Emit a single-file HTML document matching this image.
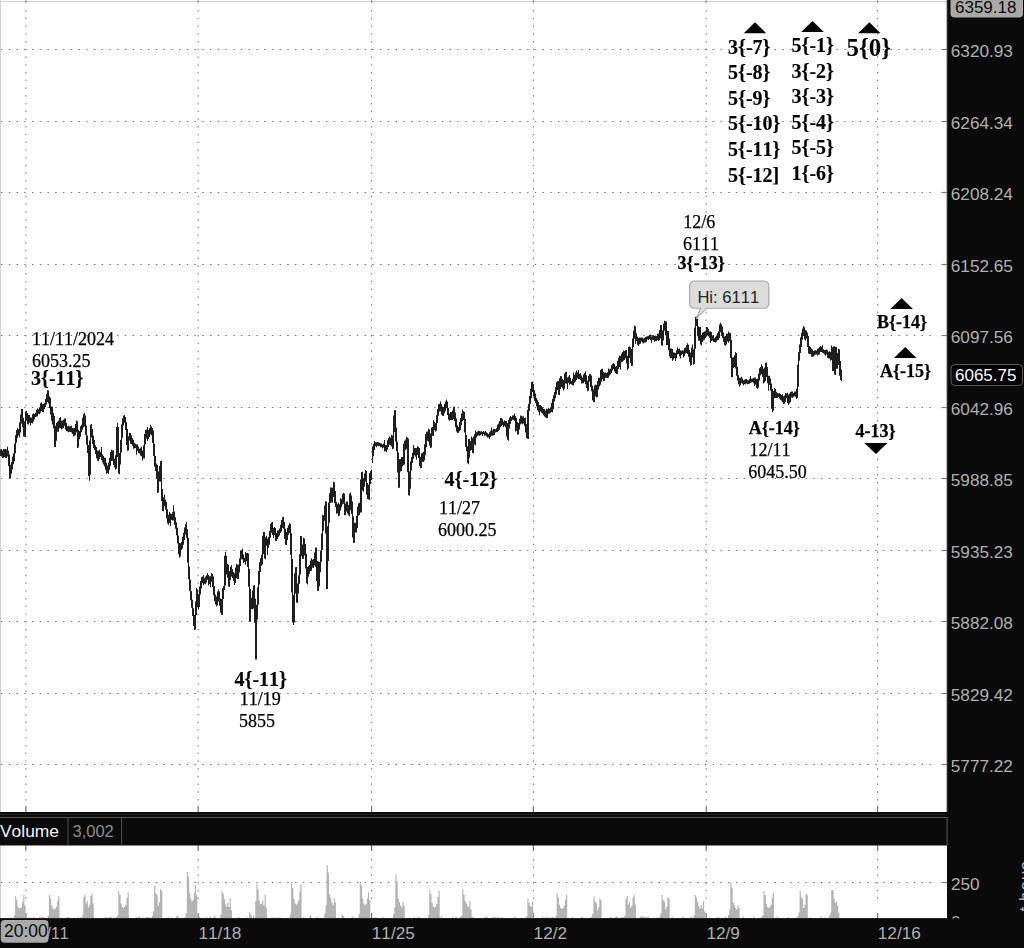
<!DOCTYPE html>
<html><head><meta charset="utf-8"><title>chart</title>
<style>html,body{margin:0;padding:0;background:#fff;}body{width:1024px;height:948px;overflow:hidden;position:relative;font-family:"Liberation Sans",sans-serif;}svg{position:absolute;left:0;top:0;display:block}text{font-kerning:none;font-variant-ligatures:none}.ax{font-family:"Liberation Sans",sans-serif;font-size:17.2px;fill:#b0b0b0}.sr{font-family:"Liberation Serif",serif;font-size:18px;fill:#000;stroke:#000;stroke-width:0.25px}.sb{font-family:"Liberation Serif",serif;font-weight:bold;font-size:20px;fill:#000;stroke:#000;stroke-width:0.15px}.sm{font-family:"Liberation Serif",serif;font-weight:bold;font-size:18px;fill:#000;stroke:#000;stroke-width:0.25px}.sx{font-family:"Liberation Serif",serif;font-weight:bold;font-size:25px;fill:#000}</style></head><body>
<svg width="1024" height="948" viewBox="0 0 1024 948">
<rect x="0" y="0" width="1024" height="948" fill="#fff"/>
<g stroke="#6e6e6e" stroke-width="1" fill="none" stroke-dasharray="1.4 6.335">
<path d="M1.1 49.5 H934"/>
<path d="M1.1 121.5 H934"/>
<path d="M1.1 192.5 H934"/>
<path d="M1.1 264.5 H934"/>
<path d="M1.1 335.5 H934"/>
<path d="M1.1 407.5 H934"/>
<path d="M1.1 478.5 H934"/>
<path d="M1.1 550.5 H934"/>
<path d="M1.1 621.5 H934"/>
<path d="M1.1 693.5 H934"/>
<path d="M1.1 764.5 H934"/>
<path d="M25.9 10.1 V806"/>
<path d="M198.2 10.1 V806"/>
<path d="M371.6 10.1 V806"/>
<path d="M533.4 10.1 V806"/>
<path d="M706.2 10.1 V806"/>
<path d="M877.6 10.1 V806"/>
</g>
<g stroke="#6e6e6e" stroke-width="1" fill="none" stroke-dasharray="1.4 6.335">
<path d="M1.1 882.5 H934"/>
<path d="M25.9 858.9 V904"/>
<path d="M198.2 858.9 V904"/>
<path d="M371.6 858.9 V904"/>
<path d="M533.4 858.9 V904"/>
<path d="M706.2 858.9 V904"/>
<path d="M877.6 858.9 V904"/>
</g>
<rect x="0" y="1" width="947" height="1" fill="#cfcfcf"/>
<rect x="0" y="0" width="1" height="918" fill="#d2d2d2"/>
<g stroke="#707070" stroke-width="1.2">
<path d="M25.9 806 V812"/>
<path d="M25.9 845 V851"/>
<path d="M25.9 913 V918"/>
<path d="M25.9 0.4 V2.8"/>
<path d="M198.2 806 V812"/>
<path d="M198.2 845 V851"/>
<path d="M198.2 913 V918"/>
<path d="M198.2 0.4 V2.8"/>
<path d="M371.6 806 V812"/>
<path d="M371.6 845 V851"/>
<path d="M371.6 913 V918"/>
<path d="M371.6 0.4 V2.8"/>
<path d="M533.4 806 V812"/>
<path d="M533.4 845 V851"/>
<path d="M533.4 913 V918"/>
<path d="M533.4 0.4 V2.8"/>
<path d="M706.2 806 V812"/>
<path d="M706.2 845 V851"/>
<path d="M706.2 913 V918"/>
<path d="M706.2 0.4 V2.8"/>
<path d="M877.6 806 V812"/>
<path d="M877.6 845 V851"/>
<path d="M877.6 913 V918"/>
<path d="M877.6 0.4 V2.8"/>
</g>
<g id="vol" fill="#b3b3b3">
<path d="M13.9 918.5 L13.9 915 L15.1 915 L15.1 896.2 L16.2 896.2 L16.2 899.7 L17.4 899.7 L17.4 906.8 L18.6 906.8 L18.6 908.6 L19.8 908.6 L19.8 907.9 L20.9 907.9 L20.9 907.2 L22.1 907.2 L22.1 902 L23.3 902 L23.3 895 L24.4 895 L24.4 905.6 L25.6 905.6 L25.6 918.5Z"/>
<path d="M47.7 918.5 L47.7 915.7 L48.9 915.7 L48.9 895 L50 895 L50 898.5 L51.2 898.5 L51.2 905.6 L52.4 905.6 L52.4 908.6 L53.6 908.6 L53.6 909.6 L54.7 909.6 L54.7 908.6 L55.9 908.6 L55.9 906.8 L57.1 906.8 L57.1 900.9 L58.2 900.9 L58.2 896.2 L59.4 896.2 L59.4 918.5Z"/>
<path d="M82.1 918.5 L82.1 915.5 L83.3 915.5 L83.3 897.2 L84.4 897.2 L84.4 894.7 L85.6 894.7 L85.6 903.4 L86.8 903.4 L86.8 900.9 L87.9 900.9 L87.9 907.2 L89.1 907.2 L89.1 904.7 L90.3 904.7 L90.3 895.9 L91.5 895.9 L91.5 893.4 L92.6 893.4 L92.6 903.4 L93.8 903.4 L93.8 918.5Z"/>
<path d="M117.1 918.5 L117.1 915.2 L118.3 915.2 L118.3 891 L119.4 891 L119.4 895.1 L120.6 895.1 L120.6 903.4 L121.8 903.4 L121.8 907 L123 907 L123 908 L124.1 908 L124.1 907 L125.3 907 L125.3 904.8 L126.5 904.8 L126.5 897.9 L127.6 897.9 L127.6 892.4 L128.8 892.4 L128.8 918.5Z"/>
<path d="M150.6 918.5 L150.6 918.5 L151.8 918.5 L151.8 915.9 L152.9 915.9 L152.9 911.4 L154.1 911.4 L154.1 886 L155.3 886 L155.3 893.1 L156.5 893.1 L156.5 895.1 L157.6 895.1 L157.6 906.1 L158.8 906.1 L158.8 902.2 L160 902.2 L160 888.9 L161.1 888.9 L161.1 890.9 L162.3 890.9 L162.3 918.5Z"/>
<path d="M185.6 918.5 L185.6 912.9 L186.8 912.9 L186.8 872 L187.9 872 L187.9 876.6 L189.1 876.6 L189.1 892.9 L190.3 892.9 L190.3 899 L191.5 899 L191.5 901.8 L192.6 901.8 L192.6 899.9 L193.8 899.9 L193.8 892.9 L195 892.9 L195 885 L196.1 885 L196.1 895.2 L197.3 895.2 L197.3 918.5Z"/>
<path d="M220.3 918.5 L220.3 914.4 L221.5 914.4 L221.5 891 L222.6 891 L222.6 893.8 L223.8 893.8 L223.8 899.2 L225 899.2 L225 904.2 L226.2 904.2 L226.2 907 L227.3 907 L227.3 902.5 L228.5 902.5 L228.5 907 L229.7 907 L229.7 897.9 L230.8 897.9 L230.8 910.2 L232 910.2 L232 918.5Z"/>
<path d="M255.2 918.5 L255.2 901.2 L256.4 901.2 L256.4 884 L257.5 884 L257.5 889.2 L258.7 889.2 L258.7 900.6 L259.9 900.6 L259.9 904 L261.1 904 L261.1 904 L262.2 904 L262.2 900.6 L263.4 900.6 L263.4 905.4 L264.6 905.4 L264.6 894.4 L265.7 894.4 L265.7 908.1 L266.9 908.1 L266.9 918.5Z"/>
<path d="M289.9 918.5 L289.9 914.2 L291.1 914.2 L291.1 882.5 L292.2 882.5 L292.2 887.9 L293.4 887.9 L293.4 898.7 L294.6 898.7 L294.6 903.4 L295.8 903.4 L295.8 904.8 L296.9 904.8 L296.9 903.4 L298.1 903.4 L298.1 900.5 L299.3 900.5 L299.3 891.5 L300.4 891.5 L300.4 884.3 L301.6 884.3 L301.6 918.5Z"/>
<path d="M324.3 918.5 L324.3 913.2 L325.5 913.2 L325.5 905.2 L326.6 905.2 L326.6 865.3 L327.8 865.3 L327.8 873.3 L329 873.3 L329 894.6 L330.2 894.6 L330.2 898.3 L331.3 898.3 L331.3 902.5 L332.5 902.5 L332.5 905.2 L333.7 905.2 L333.7 898.3 L334.8 898.3 L334.8 902.5 L336 902.5 L336 918.5Z"/>
<path d="M358.6 918.5 L358.6 914.1 L359.8 914.1 L359.8 882 L360.9 882 L360.9 885.6 L362.1 885.6 L362.1 898.4 L363.3 898.4 L363.3 903.2 L364.5 903.2 L364.5 905.4 L365.6 905.4 L365.6 903.9 L366.8 903.9 L366.8 898.4 L368 898.4 L368 892.2 L369.1 892.2 L369.1 900.2 L370.3 900.2 L370.3 918.5Z"/>
<path d="M393 918.5 L393 914.1 L394.2 914.1 L394.2 907.5 L395.3 907.5 L395.3 874.7 L396.5 874.7 L396.5 881.3 L397.7 881.3 L397.7 898.8 L398.9 898.8 L398.9 901.9 L400 901.9 L400 905.4 L401.2 905.4 L401.2 907.5 L402.4 907.5 L402.4 901.9 L403.5 901.9 L403.5 905.4 L404.7 905.4 L404.7 918.5Z"/>
<path d="M428 918.5 L428 915 L429.2 915 L429.2 889.7 L430.3 889.7 L430.3 894 L431.5 894 L431.5 902.7 L432.7 902.7 L432.7 906.4 L433.9 906.4 L433.9 907.6 L435 907.6 L435 906.4 L436.2 906.4 L436.2 904.1 L437.4 904.1 L437.4 896.9 L438.5 896.9 L438.5 891.1 L439.7 891.1 L439.7 918.5Z"/>
<path d="M461.1 918.5 L461.1 915.5 L462.3 915.5 L462.3 888.8 L463.4 888.8 L463.4 894.7 L464.6 894.7 L464.6 900.7 L465.8 900.7 L465.8 903.6 L467 903.6 L467 906 L468.1 906 L468.1 907.2 L469.3 907.2 L469.3 900.7 L470.5 900.7 L470.5 909.6 L471.6 909.6 L471.6 917 L472.8 917 L472.8 918.5Z"/>
<path d="M521.5 918.5 L521.5 918.5 L522.7 918.5 L522.7 918.5 L523.8 918.5 L523.8 918.5 L525 918.5 L525 917.5 L526.2 917.5 L526.2 916.5 L527.4 916.5 L527.4 898.8 L528.5 898.8 L528.5 902.7 L529.7 902.7 L529.7 905.7 L530.9 905.7 L530.9 906.7 L532 906.7 L532 901.8 L533.2 901.8 L533.2 918.5Z"/>
<path d="M555.5 918.5 L555.5 915.5 L556.7 915.5 L556.7 893.4 L557.8 893.4 L557.8 897.2 L559 897.2 L559 904.7 L560.2 904.7 L560.2 908 L561.4 908 L561.4 909 L562.5 909 L562.5 908 L563.7 908 L563.7 906 L564.9 906 L564.9 899.7 L566 899.7 L566 894.7 L567.2 894.7 L567.2 918.5Z"/>
<path d="M589.9 918.5 L589.9 918.5 L591.1 918.5 L591.1 916.7 L592.2 916.7 L592.2 913.7 L593.4 913.7 L593.4 896.6 L594.6 896.6 L594.6 901.4 L595.8 901.4 L595.8 902.7 L596.9 902.7 L596.9 910.2 L598.1 910.2 L598.1 907.5 L599.3 907.5 L599.3 898.6 L600.4 898.6 L600.4 899.9 L601.6 899.9 L601.6 918.5Z"/>
<path d="M624.3 918.5 L624.3 915.7 L625.5 915.7 L625.5 898.5 L626.6 898.5 L626.6 896.2 L627.8 896.2 L627.8 904.4 L629 904.4 L629 902 L630.1 902 L630.1 907.9 L631.3 907.9 L631.3 905.6 L632.5 905.6 L632.5 897.4 L633.7 897.4 L633.7 895 L634.8 895 L634.8 904.4 L636 904.4 L636 918.5Z"/>
<path d="M658 918.5 L658 918.5 L659.2 918.5 L659.2 916.6 L660.3 916.6 L660.3 913.3 L661.5 913.3 L661.5 895 L662.7 895 L662.7 900.2 L663.9 900.2 L663.9 901.6 L665 901.6 L665 909.6 L666.2 909.6 L666.2 906.8 L667.4 906.8 L667.4 897.1 L668.5 897.1 L668.5 898.5 L669.7 898.5 L669.7 918.5Z"/>
<path d="M693.6 918.5 L693.6 915 L694.8 915 L694.8 895 L695.9 895 L695.9 897.4 L697.1 897.4 L697.1 902 L698.3 902 L698.3 906.3 L699.4 906.3 L699.4 908.6 L700.6 908.6 L700.6 904.9 L701.8 904.9 L701.8 908.6 L703 908.6 L703 900.9 L704.1 900.9 L704.1 911.5 L705.3 911.5 L705.3 918.5Z"/>
<path d="M728 918.5 L728 915 L729.2 915 L729.2 909.6 L730.3 909.6 L730.3 883 L731.5 883 L731.5 888.3 L732.7 888.3 L732.7 902.5 L733.9 902.5 L733.9 905 L735 905 L735 907.9 L736.2 907.9 L736.2 909.6 L737.4 909.6 L737.4 905 L738.5 905 L738.5 907.9 L739.7 907.9 L739.7 918.5Z"/>
<path d="M762.3 918.5 L762.3 915.2 L763.5 915.2 L763.5 891 L764.6 891 L764.6 895.1 L765.8 895.1 L765.8 903.4 L767 903.4 L767 907 L768.1 907 L768.1 908 L769.3 908 L769.3 907 L770.5 907 L770.5 904.8 L771.7 904.8 L771.7 897.9 L772.8 897.9 L772.8 892.4 L774 892.4 L774 918.5Z"/>
<path d="M796.1 918.5 L796.1 918.5 L797.3 918.5 L797.3 916.3 L798.4 916.3 L798.4 912.5 L799.6 912.5 L799.6 891 L800.8 891 L800.8 897 L801.9 897 L801.9 898.7 L803.1 898.7 L803.1 908 L804.3 908 L804.3 904.8 L805.5 904.8 L805.5 893.5 L806.6 893.5 L806.6 895.1 L807.8 895.1 L807.8 918.5Z"/>
<path d="M828.9 918.5 L828.9 915.6 L830.1 915.6 L830.1 912.8 L831.2 912.8 L831.2 890 L832.4 890 L832.4 890 L833.6 890 L833.6 898.5 L834.8 898.5 L834.8 902.8 L835.9 902.8 L835.9 901.4 L837.1 901.4 L837.1 905.7 L838.3 905.7 L838.3 912.8 L839.4 912.8 L839.4 918.5 L840.6 918.5 L840.6 918.5Z"/>
<path d="M2 918.5 v-0.6 h1.2 v0.6ZM4.4 918.5 v-0.8 h1.2 v0.8ZM5.6 918.5 v-0.5 h1.2 v0.5ZM10.4 918.5 v-1 h1.2 v1ZM12.8 918.5 v-0.6 h1.2 v0.6ZM14 918.5 v-1.5 h1.2 v1.5ZM16.4 918.5 v-2 h1.2 v2ZM17.6 918.5 v-1 h1.2 v1ZM22.4 918.5 v-0.8 h1.2 v0.8ZM23.6 918.5 v-0.8 h1.2 v0.8ZM28.4 918.5 v-1 h1.2 v1ZM29.6 918.5 v-0.8 h1.2 v0.8ZM33.2 918.5 v-1.5 h1.2 v1.5ZM36.8 918.5 v-0.5 h1.2 v0.5ZM38 918.5 v-0.5 h1.2 v0.5ZM39.2 918.5 v-1.5 h1.2 v1.5ZM41.6 918.5 v-1.5 h1.2 v1.5ZM42.8 918.5 v-1.5 h1.2 v1.5ZM44 918.5 v-0.8 h1.2 v0.8ZM48.8 918.5 v-1 h1.2 v1ZM53.6 918.5 v-0.8 h1.2 v0.8ZM56 918.5 v-1 h1.2 v1ZM58.4 918.5 v-1.5 h1.2 v1.5ZM60.8 918.5 v-1 h1.2 v1ZM63.2 918.5 v-0.5 h1.2 v0.5ZM66.8 918.5 v-1.5 h1.2 v1.5ZM68 918.5 v-1.5 h1.2 v1.5ZM69.2 918.5 v-0.5 h1.2 v0.5ZM71.6 918.5 v-0.6 h1.2 v0.6ZM74 918.5 v-1 h1.2 v1ZM77.6 918.5 v-1.5 h1.2 v1.5ZM80 918.5 v-1.5 h1.2 v1.5ZM82.4 918.5 v-1 h1.2 v1ZM83.6 918.5 v-0.5 h1.2 v0.5ZM84.8 918.5 v-1 h1.2 v1ZM86 918.5 v-0.8 h1.2 v0.8ZM88.4 918.5 v-0.6 h1.2 v0.6ZM89.6 918.5 v-1 h1.2 v1ZM90.8 918.5 v-1.5 h1.2 v1.5ZM92 918.5 v-2 h1.2 v2ZM93.2 918.5 v-1 h1.2 v1ZM94.4 918.5 v-0.6 h1.2 v0.6ZM105.2 918.5 v-1.5 h1.2 v1.5ZM107.6 918.5 v-1 h1.2 v1ZM108.8 918.5 v-1 h1.2 v1ZM110 918.5 v-2 h1.2 v2ZM111.2 918.5 v-0.6 h1.2 v0.6ZM113.6 918.5 v-1 h1.2 v1ZM116 918.5 v-1.5 h1.2 v1.5ZM119.6 918.5 v-1 h1.2 v1ZM120.8 918.5 v-0.8 h1.2 v0.8ZM124.4 918.5 v-0.6 h1.2 v0.6ZM126.8 918.5 v-2 h1.2 v2ZM128 918.5 v-1 h1.2 v1ZM129.2 918.5 v-0.8 h1.2 v0.8ZM131.6 918.5 v-0.5 h1.2 v0.5ZM135.2 918.5 v-1 h1.2 v1ZM136.4 918.5 v-1.5 h1.2 v1.5ZM138.8 918.5 v-2 h1.2 v2ZM141.2 918.5 v-0.6 h1.2 v0.6ZM142.4 918.5 v-0.6 h1.2 v0.6ZM144.8 918.5 v-0.6 h1.2 v0.6ZM146 918.5 v-1.5 h1.2 v1.5ZM147.2 918.5 v-1 h1.2 v1ZM148.4 918.5 v-1.5 h1.2 v1.5ZM150.8 918.5 v-1 h1.2 v1ZM156.8 918.5 v-1 h1.2 v1ZM159.2 918.5 v-0.5 h1.2 v0.5ZM166.4 918.5 v-0.5 h1.2 v0.5ZM167.6 918.5 v-1.5 h1.2 v1.5ZM168.8 918.5 v-0.5 h1.2 v0.5ZM171.2 918.5 v-1 h1.2 v1ZM174.8 918.5 v-0.8 h1.2 v0.8ZM176 918.5 v-2 h1.2 v2ZM177.2 918.5 v-0.5 h1.2 v0.5ZM178.4 918.5 v-0.6 h1.2 v0.6ZM180.8 918.5 v-1 h1.2 v1ZM182 918.5 v-0.6 h1.2 v0.6ZM184.4 918.5 v-1.5 h1.2 v1.5ZM186.8 918.5 v-1 h1.2 v1ZM196.4 918.5 v-0.8 h1.2 v0.8ZM197.6 918.5 v-0.8 h1.2 v0.8ZM198.8 918.5 v-2 h1.2 v2ZM201.2 918.5 v-1 h1.2 v1ZM204.8 918.5 v-1 h1.2 v1ZM206 918.5 v-0.8 h1.2 v0.8ZM207.2 918.5 v-1 h1.2 v1ZM209.6 918.5 v-2 h1.2 v2ZM213.2 918.5 v-0.8 h1.2 v0.8ZM215.6 918.5 v-1 h1.2 v1ZM219.2 918.5 v-0.8 h1.2 v0.8ZM220.4 918.5 v-0.6 h1.2 v0.6ZM221.6 918.5 v-0.5 h1.2 v0.5ZM222.8 918.5 v-2 h1.2 v2ZM224 918.5 v-0.8 h1.2 v0.8ZM232.4 918.5 v-0.5 h1.2 v0.5ZM236 918.5 v-1 h1.2 v1ZM238.4 918.5 v-1.5 h1.2 v1.5ZM245.6 918.5 v-0.8 h1.2 v0.8ZM246.8 918.5 v-1 h1.2 v1ZM248 918.5 v-0.6 h1.2 v0.6ZM249.2 918.5 v-1.5 h1.2 v1.5ZM250.4 918.5 v-1.5 h1.2 v1.5ZM251.6 918.5 v-0.6 h1.2 v0.6ZM256.4 918.5 v-1 h1.2 v1ZM257.6 918.5 v-1.5 h1.2 v1.5ZM258.8 918.5 v-0.5 h1.2 v0.5ZM260 918.5 v-0.5 h1.2 v0.5ZM263.6 918.5 v-1 h1.2 v1ZM264.8 918.5 v-2 h1.2 v2ZM269.6 918.5 v-0.5 h1.2 v0.5ZM272 918.5 v-1 h1.2 v1ZM273.2 918.5 v-0.8 h1.2 v0.8ZM274.4 918.5 v-0.8 h1.2 v0.8ZM275.6 918.5 v-0.8 h1.2 v0.8ZM276.8 918.5 v-0.8 h1.2 v0.8ZM279.2 918.5 v-1 h1.2 v1ZM280.4 918.5 v-0.5 h1.2 v0.5ZM281.6 918.5 v-0.8 h1.2 v0.8ZM287.6 918.5 v-1 h1.2 v1ZM291.2 918.5 v-0.6 h1.2 v0.6ZM292.4 918.5 v-1.5 h1.2 v1.5ZM297.2 918.5 v-1.5 h1.2 v1.5ZM299.6 918.5 v-1 h1.2 v1ZM302 918.5 v-0.6 h1.2 v0.6ZM303.2 918.5 v-1.5 h1.2 v1.5ZM309.2 918.5 v-1.5 h1.2 v1.5ZM310.4 918.5 v-0.8 h1.2 v0.8ZM312.8 918.5 v-0.5 h1.2 v0.5ZM315.2 918.5 v-0.6 h1.2 v0.6ZM316.4 918.5 v-1.5 h1.2 v1.5ZM317.6 918.5 v-0.6 h1.2 v0.6ZM318.8 918.5 v-1 h1.2 v1ZM323.6 918.5 v-1 h1.2 v1ZM324.8 918.5 v-1 h1.2 v1ZM326 918.5 v-1 h1.2 v1ZM327.2 918.5 v-1 h1.2 v1ZM334.4 918.5 v-0.6 h1.2 v0.6ZM338 918.5 v-1 h1.2 v1ZM342.8 918.5 v-1 h1.2 v1ZM346.4 918.5 v-1 h1.2 v1ZM347.6 918.5 v-0.6 h1.2 v0.6ZM351.2 918.5 v-1 h1.2 v1ZM352.4 918.5 v-2 h1.2 v2ZM356 918.5 v-1 h1.2 v1ZM358.4 918.5 v-0.5 h1.2 v0.5ZM365.6 918.5 v-1 h1.2 v1ZM366.8 918.5 v-0.6 h1.2 v0.6ZM368 918.5 v-2 h1.2 v2ZM370.4 918.5 v-0.6 h1.2 v0.6ZM374 918.5 v-1 h1.2 v1ZM375.2 918.5 v-1 h1.2 v1ZM377.6 918.5 v-1 h1.2 v1ZM378.8 918.5 v-0.6 h1.2 v0.6ZM380 918.5 v-0.5 h1.2 v0.5ZM382.4 918.5 v-1.5 h1.2 v1.5ZM393.2 918.5 v-0.8 h1.2 v0.8ZM399.2 918.5 v-1 h1.2 v1ZM400.4 918.5 v-1 h1.2 v1ZM401.6 918.5 v-0.6 h1.2 v0.6ZM408.8 918.5 v-1 h1.2 v1ZM413.6 918.5 v-1.5 h1.2 v1.5ZM414.8 918.5 v-0.6 h1.2 v0.6ZM416 918.5 v-1 h1.2 v1ZM418.4 918.5 v-2 h1.2 v2ZM420.8 918.5 v-0.6 h1.2 v0.6ZM422 918.5 v-0.6 h1.2 v0.6ZM428 918.5 v-1 h1.2 v1ZM430.4 918.5 v-0.6 h1.2 v0.6ZM432.8 918.5 v-1 h1.2 v1ZM434 918.5 v-1.5 h1.2 v1.5ZM435.2 918.5 v-2 h1.2 v2ZM436.4 918.5 v-1.5 h1.2 v1.5ZM440 918.5 v-1 h1.2 v1ZM441.2 918.5 v-2 h1.2 v2ZM442.4 918.5 v-0.5 h1.2 v0.5ZM443.6 918.5 v-0.6 h1.2 v0.6ZM446 918.5 v-0.5 h1.2 v0.5ZM449.6 918.5 v-0.5 h1.2 v0.5ZM452 918.5 v-2 h1.2 v2ZM453.2 918.5 v-0.8 h1.2 v0.8ZM459.2 918.5 v-1 h1.2 v1ZM460.4 918.5 v-2 h1.2 v2ZM462.8 918.5 v-0.8 h1.2 v0.8ZM465.2 918.5 v-0.5 h1.2 v0.5ZM466.4 918.5 v-0.6 h1.2 v0.6ZM471.2 918.5 v-0.8 h1.2 v0.8ZM472.4 918.5 v-1 h1.2 v1ZM473.6 918.5 v-0.8 h1.2 v0.8ZM484.4 918.5 v-1.5 h1.2 v1.5ZM485.6 918.5 v-2 h1.2 v2ZM486.8 918.5 v-1 h1.2 v1ZM489.2 918.5 v-0.5 h1.2 v0.5ZM491.6 918.5 v-1.5 h1.2 v1.5ZM494 918.5 v-1.5 h1.2 v1.5ZM495.2 918.5 v-1 h1.2 v1ZM496.4 918.5 v-0.5 h1.2 v0.5ZM497.6 918.5 v-2 h1.2 v2ZM498.8 918.5 v-0.6 h1.2 v0.6ZM501.2 918.5 v-1 h1.2 v1ZM502.4 918.5 v-1 h1.2 v1ZM509.6 918.5 v-0.5 h1.2 v0.5ZM512 918.5 v-1 h1.2 v1ZM514.4 918.5 v-2 h1.2 v2ZM516.8 918.5 v-0.8 h1.2 v0.8ZM528.8 918.5 v-1 h1.2 v1ZM532.4 918.5 v-1.5 h1.2 v1.5ZM533.6 918.5 v-0.6 h1.2 v0.6ZM536 918.5 v-1 h1.2 v1ZM537.2 918.5 v-0.8 h1.2 v0.8ZM542 918.5 v-2 h1.2 v2ZM544.4 918.5 v-0.6 h1.2 v0.6ZM545.6 918.5 v-2 h1.2 v2ZM546.8 918.5 v-1 h1.2 v1ZM548 918.5 v-0.5 h1.2 v0.5ZM549.2 918.5 v-1.5 h1.2 v1.5ZM551.6 918.5 v-2 h1.2 v2ZM552.8 918.5 v-1 h1.2 v1ZM554 918.5 v-0.8 h1.2 v0.8ZM556.4 918.5 v-2 h1.2 v2ZM557.6 918.5 v-2 h1.2 v2ZM558.8 918.5 v-1 h1.2 v1ZM561.2 918.5 v-1 h1.2 v1ZM563.6 918.5 v-1 h1.2 v1ZM564.8 918.5 v-1 h1.2 v1ZM568.4 918.5 v-1 h1.2 v1ZM572 918.5 v-1.5 h1.2 v1.5ZM580.4 918.5 v-1 h1.2 v1ZM581.6 918.5 v-1.5 h1.2 v1.5ZM585.2 918.5 v-1 h1.2 v1ZM587.6 918.5 v-0.6 h1.2 v0.6ZM588.8 918.5 v-0.5 h1.2 v0.5ZM590 918.5 v-1 h1.2 v1ZM591.2 918.5 v-1 h1.2 v1ZM592.4 918.5 v-1 h1.2 v1ZM593.6 918.5 v-1 h1.2 v1ZM598.4 918.5 v-2 h1.2 v2ZM599.6 918.5 v-1 h1.2 v1ZM609.2 918.5 v-1 h1.2 v1ZM610.4 918.5 v-1 h1.2 v1ZM611.6 918.5 v-1 h1.2 v1ZM615.2 918.5 v-2 h1.2 v2ZM616.4 918.5 v-2 h1.2 v2ZM618.8 918.5 v-1 h1.2 v1ZM620 918.5 v-0.6 h1.2 v0.6ZM621.2 918.5 v-1.5 h1.2 v1.5ZM622.4 918.5 v-1 h1.2 v1ZM623.6 918.5 v-1.5 h1.2 v1.5ZM624.8 918.5 v-1 h1.2 v1ZM629.6 918.5 v-1 h1.2 v1ZM630.8 918.5 v-1 h1.2 v1ZM632 918.5 v-1 h1.2 v1ZM634.4 918.5 v-1 h1.2 v1ZM635.6 918.5 v-1 h1.2 v1ZM639.2 918.5 v-1 h1.2 v1ZM640.4 918.5 v-2 h1.2 v2ZM641.6 918.5 v-2 h1.2 v2ZM642.8 918.5 v-2 h1.2 v2ZM645.2 918.5 v-2 h1.2 v2ZM646.4 918.5 v-1 h1.2 v1ZM647.6 918.5 v-2 h1.2 v2ZM651.2 918.5 v-1 h1.2 v1ZM653.6 918.5 v-0.8 h1.2 v0.8ZM656 918.5 v-0.8 h1.2 v0.8ZM657.2 918.5 v-1 h1.2 v1ZM658.4 918.5 v-0.6 h1.2 v0.6ZM660.8 918.5 v-0.5 h1.2 v0.5ZM663.2 918.5 v-0.8 h1.2 v0.8ZM666.8 918.5 v-0.5 h1.2 v0.5ZM671.6 918.5 v-2 h1.2 v2ZM676.4 918.5 v-0.5 h1.2 v0.5ZM677.6 918.5 v-0.5 h1.2 v0.5ZM678.8 918.5 v-0.6 h1.2 v0.6ZM682.4 918.5 v-2 h1.2 v2ZM684.8 918.5 v-1 h1.2 v1ZM689.6 918.5 v-0.8 h1.2 v0.8ZM690.8 918.5 v-2 h1.2 v2ZM692 918.5 v-1 h1.2 v1ZM694.4 918.5 v-0.5 h1.2 v0.5ZM700.4 918.5 v-0.8 h1.2 v0.8ZM701.6 918.5 v-1 h1.2 v1ZM702.8 918.5 v-0.8 h1.2 v0.8ZM704 918.5 v-0.6 h1.2 v0.6ZM705.2 918.5 v-0.8 h1.2 v0.8ZM707.6 918.5 v-0.6 h1.2 v0.6ZM708.8 918.5 v-0.6 h1.2 v0.6ZM712.4 918.5 v-0.6 h1.2 v0.6ZM714.8 918.5 v-0.6 h1.2 v0.6ZM716 918.5 v-1 h1.2 v1ZM717.2 918.5 v-1 h1.2 v1ZM718.4 918.5 v-1 h1.2 v1ZM722 918.5 v-0.8 h1.2 v0.8ZM723.2 918.5 v-0.6 h1.2 v0.6ZM724.4 918.5 v-1 h1.2 v1ZM725.6 918.5 v-1.5 h1.2 v1.5ZM728 918.5 v-1 h1.2 v1ZM731.6 918.5 v-2 h1.2 v2ZM735.2 918.5 v-2 h1.2 v2ZM742.4 918.5 v-2 h1.2 v2ZM750.8 918.5 v-0.8 h1.2 v0.8ZM753.2 918.5 v-2 h1.2 v2ZM754.4 918.5 v-0.5 h1.2 v0.5ZM758 918.5 v-0.8 h1.2 v0.8ZM760.4 918.5 v-1 h1.2 v1ZM761.6 918.5 v-2 h1.2 v2ZM762.8 918.5 v-1 h1.2 v1ZM764 918.5 v-1.5 h1.2 v1.5ZM765.2 918.5 v-1 h1.2 v1ZM767.6 918.5 v-0.6 h1.2 v0.6ZM776 918.5 v-0.8 h1.2 v0.8ZM777.2 918.5 v-2 h1.2 v2ZM782 918.5 v-0.5 h1.2 v0.5ZM788 918.5 v-1.5 h1.2 v1.5ZM796.4 918.5 v-1 h1.2 v1ZM798.8 918.5 v-0.6 h1.2 v0.6ZM800 918.5 v-1 h1.2 v1ZM801.2 918.5 v-0.8 h1.2 v0.8ZM802.4 918.5 v-2 h1.2 v2ZM803.6 918.5 v-2 h1.2 v2ZM806 918.5 v-1.5 h1.2 v1.5ZM809.6 918.5 v-1 h1.2 v1ZM820.4 918.5 v-2 h1.2 v2ZM822.8 918.5 v-0.5 h1.2 v0.5ZM825.2 918.5 v-1 h1.2 v1ZM830 918.5 v-1 h1.2 v1ZM831.2 918.5 v-1 h1.2 v1ZM832.4 918.5 v-0.5 h1.2 v0.5ZM836 918.5 v-0.6 h1.2 v0.6Z"/>
<rect x="249" y="912.5" width="1.3" height="6"/>
<rect x="250.2" y="914.5" width="1.3" height="4"/>
<rect x="253" y="915.5" width="1.3" height="3"/>
<rect x="177" y="916" width="1.3" height="2.5"/>
<rect x="214" y="916" width="1.3" height="2.5"/>
<rect x="341.5" y="914.5" width="1.3" height="4"/>
<rect x="343" y="916" width="1.3" height="2.5"/>
<rect x="455.5" y="916.5" width="1.3" height="2"/>
<rect x="497.5" y="917" width="1.3" height="1.5"/>
<rect x="310" y="915.5" width="1.3" height="3"/>
</g>
<path d="M0 449.4v6.6h1v-6.6zM1 449.1v7.5h1v-7.5zM2 450.6v7.6h1v-7.6zM3 448.9v8.8h1v-8.8zM4 448.9v8h1v-8zM5 449.3v8.7h1v-8.7zM6 449.2v8.8h1v-8.8zM7 446.8v9.8h1v-9.8zM8 450.4v15.6h1v-15.6zM9 454.4v23.7h1v-23.7zM10 464.8v13.8h1v-13.8zM11 462v11.8h1v-11.8zM12 456.6v12.9h1v-12.9zM13 453.3v10.9h1v-10.9zM14 443.6v17.7h1v-17.7zM15 435.3v17.9h1v-17.9zM16 430.1v12.6h1v-12.6zM17 428v10.2h1v-10.2zM18 429.2v6.3h1v-6.3zM19 422.6v14.6h1v-14.6zM20 414.6v17.8h1v-17.8zM21 409.1v14.5h1v-14.5zM22 409.1v18.2h1v-18.2zM23 417.7v18.7h1v-18.7zM24 421.3v15.4h1v-15.4zM25 411.4v25.9h1v-25.9zM26 410.7v10h1v-10zM27 412.9v11.3h1v-11.3zM28 415.1v9.5h1v-9.5zM29 415v7.7h1v-7.7zM30 417.4v8h1v-8zM31 417.5v5.5h1v-5.5zM32 414.3v9.1h1v-9.1zM33 413.3v8.1h1v-8.1zM34 413.9v5.3h1v-5.3zM35 412.8v4.2h1v-4.2zM36 409.7v6.9h1v-6.9zM37 408.6v7.9h1v-7.9zM38 409.3v4.4h1v-4.4zM39 407.3v6.9h1v-6.9zM40 403.3v9.5h1v-9.5zM41 402.3v8.8h1v-8.8zM42 403.9v8h1v-8zM43 403.7v8.6h1v-8.6zM44 402.9v6.2h1v-6.2zM45 399v8h1v-8zM46 394.1v10.5h1v-10.5zM47 390.3v11.8h1v-11.8zM48 390.6v12.8h1v-12.8zM49 396.2v11.7h1v-11.7zM50 397.8v16.7h1v-16.7zM51 406.4v14.3h1v-14.3zM52 406.7v17.7h1v-17.7zM53 413v15.2h1v-15.2zM54 416v31.1h1v-31.1zM55 425.7v21.3h1v-21.3zM56 422.8v17.9h1v-17.9zM57 421.7v10.1h1v-10.1zM58 420.6v11.2h1v-11.2zM59 418.1v10.2h1v-10.2zM60 417.1v10.8h1v-10.8zM61 420.8v8.7h1v-8.7zM62 420.6v8.2h1v-8.2zM63 419.7v8.4h1v-8.4zM64 418.4v7.3h1v-7.3zM65 418.4v11.3h1v-11.3zM66 423.1v7.9h1v-7.9zM67 426.2v5.3h1v-5.3zM68 425.8v6.4h1v-6.4zM69 426.4v5.3h1v-5.3zM70 426.2v5.7h1v-5.7zM71 425.8v6.8h1v-6.8zM72 428v6.1h1v-6.1zM73 428.2v8.4h1v-8.4zM74 428v7.7h1v-7.7zM75 424v11.2h1v-11.2zM76 420.5v11.8h1v-11.8zM77 421.3v26.8h1v-26.8zM78 429.7v17.8h1v-17.8zM79 431v8.3h1v-8.3zM80 426.3v10.5h1v-10.5zM81 424.8v7.5h1v-7.5zM82 417.8v12h1v-12zM83 414.1v13.4h1v-13.4zM84 412.8v13.7h1v-13.7zM85 415.4v19.4h1v-19.4zM86 425.6v19.2h1v-19.2zM87 435.5v17.5h1v-17.5zM88 445v31h1v-31zM89 440.5v40.2h1v-40.2zM90 424.8v50h1v-50zM91 424v13.4h1v-13.4zM92 428.9v15.1h1v-15.1zM93 435.8v12.1h1v-12.1zM94 439.9v10h1v-10zM95 445.2v8.9h1v-8.9zM96 447v11.2h1v-11.2zM97 450.6v9.9h1v-9.9zM98 450.8v10.4h1v-10.4zM99 449.8v9.3h1v-9.3zM100 451.9v5.1h1v-5.1zM101 446.9v13h1v-13zM102 454.3v8.1h1v-8.1zM103 455.9v8.7h1v-8.7zM104 457.8v8.7h1v-8.7zM105 457.8v11.9h1v-11.9zM106 462.7v11h1v-11zM107 465.4v7.8h1v-7.8zM108 462.5v11.2h1v-11.2zM109 457.8v11.9h1v-11.9zM110 452.1v13.8h1v-13.8zM111 449.7v11.2h1v-11.2zM112 450.2v10.5h1v-10.5zM113 450.6v14.4h1v-14.4zM114 458.7v8.9h1v-8.9zM115 455.2v14.4h1v-14.4zM116 426.7v42.1h1v-42.1zM117 422.8v34.2h1v-34.2zM118 426.9v46.6h1v-46.6zM119 452.9v21.3h1v-21.3zM120 440.1v24.4h1v-24.4zM121 424.4v28.1h1v-28.1zM122 418.6v19.1h1v-19.1zM123 415.7v9.9h1v-9.9zM124 414.9v7.9h1v-7.9zM125 417v13h1v-13zM126 422.3v22.6h1v-22.6zM127 428.9v21.9h1v-21.9zM128 436.2v14.3h1v-14.3zM129 432.8v7.7h1v-7.7zM130 432.9v10.9h1v-10.9zM131 435.3v9h1v-9zM132 438.1v7.6h1v-7.6zM133 439.9v9.2h1v-9.2zM134 442.7v5.3h1v-5.3zM135 443.7v4.5h1v-4.5zM136 444.3v10.4h1v-10.4zM137 444.6v6.4h1v-6.4zM138 446.6v6.5h1v-6.5zM139 448.7v4.7h1v-4.7zM140 447.8v7.8h1v-7.8zM141 446.7v9.5h1v-9.5zM142 450.4v10.2h1v-10.2zM143 445.5v13.1h1v-13.1zM144 433.9v24.7h1v-24.7zM145 429.8v14.4h1v-14.4zM146 429.7v8.7h1v-8.7zM147 426.9v14.2h1v-14.2zM148 430.1v8.8h1v-8.8zM149 428.3v8.7h1v-8.7zM150 424.8v9.6h1v-9.6zM151 426.5v8.8h1v-8.8zM152 428.1v14.8h1v-14.8zM153 430.4v25.6h1v-25.6zM154 443.7v22.7h1v-22.7zM155 456.1v15h1v-15zM156 463.6v15.1h1v-15.1zM157 464.9v28.1h1v-28.1zM158 471.4v21.1h1v-21.1zM159 466v15.6h1v-15.6zM160 461.1v20.6h1v-20.6zM161 460.8v40.2h1v-40.2zM162 489v21.9h1v-21.9zM163 497.3v14h1v-14zM164 494.6v11.7h1v-11.7zM165 499.6v10.2h1v-10.2zM166 501.7v16.6h1v-16.6zM167 509.3v14.2h1v-14.2zM168 514.8v9.9h1v-9.9zM169 511.8v11.1h1v-11.1zM170 513.3v12.6h1v-12.6zM171 514v6.1h1v-6.1zM172 512.3v8.3h1v-8.3zM173 505.3v15.2h1v-15.2zM174 511.5v13.2h1v-13.2zM175 517.3v11.5h1v-11.5zM176 522.2v13h1v-13zM177 527.8v15.6h1v-15.6zM178 535.6v18.6h1v-18.6zM179 543.1v14.3h1v-14.3zM180 543.2v13.4h1v-13.4zM181 542.1v7.8h1v-7.8zM182 536.8v11.7h1v-11.7zM183 532.7v12.1h1v-12.1zM184 527.6v12.5h1v-12.5zM185 524.2v10.2h1v-10.2zM186 522v15.7h1v-15.7zM187 529.1v33.3h1v-33.3zM188 538.1v41.1h1v-41.1zM189 566.4v24.4h1v-24.4zM190 579.8v20.5h1v-20.5zM191 591v16.7h1v-16.7zM192 599.7v16.4h1v-16.4zM193 608.2v17.9h1v-17.9zM194 615.1v14.9h1v-14.9zM195 601.5v28.1h1v-28.1zM196 588.1v27.1h1v-27.1zM197 589.4v17.9h1v-17.9zM198 594v15.6h1v-15.6zM199 586.6v20.5h1v-20.5zM200 581v13.6h1v-13.6zM201 577v11.5h1v-11.5zM202 576.5v6.7h1v-6.7zM203 575.1v9.8h1v-9.8zM204 578.2v5.5h1v-5.5zM205 576.5v7.8h1v-7.8zM206 575.2v7.3h1v-7.3zM207 573v6.7h1v-6.7zM208 574.9v10.7h1v-10.7zM209 576.2v7.7h1v-7.7zM210 576.3v11h1v-11zM211 572.9v8.8h1v-8.8zM212 573.9v13.1h1v-13.1zM213 576.5v18.7h1v-18.7zM214 586.3v14.6h1v-14.6zM215 594.5v10.1h1v-10.1zM216 596.6v10h1v-10zM217 591.5v13.8h1v-13.8zM218 589.6v12h1v-12zM219 591.5v14.3h1v-14.3zM220 598.5v14.3h1v-14.3zM221 599.1v16h1v-16zM222 588.3v26.5h1v-26.5zM223 586v13h1v-13zM224 555.7v34.3h1v-34.3zM225 551.7v33.9h1v-33.9zM226 555.8v18.6h1v-18.6zM227 563.8v13.9h1v-13.9zM228 564.8v21.6h1v-21.6zM229 571.1v15.9h1v-15.9zM230 566.8v13.1h1v-13.1zM231 565.2v11.2h1v-11.2zM232 569v9h1v-9zM233 571.7v9.2h1v-9.2zM234 573.2v11.7h1v-11.7zM235 567.5v15.4h1v-15.4zM236 563.8v14.1h1v-14.1zM237 564.8v14.2h1v-14.2zM238 564.6v14.5h1v-14.5zM239 558.4v14.1h1v-14.1zM240 550.5v15.4h1v-15.4zM241 549.9v9.4h1v-9.4zM242 548.5v11.1h1v-11.1zM243 554.3v9h1v-9zM244 557.7v4.4h1v-4.4zM245 552.1v12.6h1v-12.6zM246 553.1v8.2h1v-8.2zM247 553v13.9h1v-13.9zM248 553.5v33.2h1v-33.2zM249 568.9v52.7h1v-52.7zM250 588.9v32.9h1v-32.9zM251 597.7v11.4h1v-11.4zM252 590.5v18.8h1v-18.8zM253 585.4v23h1v-23zM254 584.9v37.8h1v-37.8zM255 598.8v60.7h1v-60.7zM256 604.8v54.6h1v-54.6zM257 587.3v32.3h1v-32.3zM258 571.1v33.4h1v-33.4zM259 562.3v22.3h1v-22.3zM260 558.3v13.6h1v-13.6zM261 554.8v10.9h1v-10.9zM262 535.7v28.7h1v-28.7zM263 531.9v22.2h1v-22.2zM264 532v26.5h1v-26.5zM265 537.2v22h1v-22zM266 535.7v10h1v-10zM267 538.5v16.5h1v-16.5zM268 536.9v10.8h1v-10.8zM269 531v13.7h1v-13.7zM270 524v13.8h1v-13.8zM271 522.4v10.3h1v-10.3zM272 522v12.9h1v-12.9zM273 528.1v9.9h1v-9.9zM274 527v8.2h1v-8.2zM275 528.1v13h1v-13zM276 533v8h1v-8zM277 530.4v8.7h1v-8.7zM278 530.2v6.7h1v-6.7zM279 528.4v7.1h1v-7.1zM280 524.8v8.2h1v-8.2zM281 519.9v11.6h1v-11.6zM282 517.2v10.7h1v-10.7zM283 516.8v12h1v-12zM284 522.1v16.8h1v-16.8zM285 528.8v16h1v-16zM286 531.8v13.1h1v-13.1zM287 527.8v12.4h1v-12.4zM288 525.3v9.5h1v-9.5zM289 523.3v9.6h1v-9.6zM290 523.9v30.8h1v-30.8zM291 533.3v59.1h1v-59.1zM292 559v63.5h1v-63.5zM293 594.9v30h1v-30zM294 573.3v49.1h1v-49.1zM295 567.2v26.2h1v-26.2zM296 567.1v35.4h1v-35.4zM297 583.5v19.4h1v-19.4zM298 575.2v18.3h1v-18.3zM299 554.3v29.4h1v-29.4zM300 535.9v38.7h1v-38.7zM301 536.1v20.1h1v-20.1zM302 544.4v14.6h1v-14.6zM303 537.8v20.9h1v-20.9zM304 538.5v16.9h1v-16.9zM305 544.1v24.3h1v-24.3zM306 553.8v29.4h1v-29.4zM307 566.9v17.5h1v-17.5zM308 565.9v10.8h1v-10.8zM309 565v8.7h1v-8.7zM310 560.4v10.5h1v-10.5zM311 558.2v12.5h1v-12.5zM312 559.8v7.8h1v-7.8zM313 559v9h1v-9zM314 552.4v13.1h1v-13.1zM315 547.5v19.2h1v-19.2zM316 547.5v33.4h1v-33.4zM317 561.1v29.6h1v-29.6zM318 561.6v29.4h1v-29.4zM319 562v24.3h1v-24.3zM320 550.5v21.7h1v-21.7zM321 533.6v28.2h1v-28.2zM322 514.7v35.2h1v-35.2zM323 515.3v15.5h1v-15.5zM324 505.6v15.2h1v-15.2zM325 501.2v32.4h1v-32.4zM326 501.6v87.4h1v-87.4zM327 526.3v62.6h1v-62.6zM328 502.6v58.4h1v-58.4zM329 493.2v29.6h1v-29.6zM330 487.6v15.4h1v-15.4zM331 487.4v15.2h1v-15.2zM332 487.8v14.6h1v-14.6zM333 481.8v15.2h1v-15.2zM334 482.2v20.9h1v-20.9zM335 491v16.1h1v-16.1zM336 502.1v11.7h1v-11.7zM337 504.3v8.9h1v-8.9zM338 502.4v13.8h1v-13.8zM339 504.3v11.1h1v-11.1zM340 498.2v12.6h1v-12.6zM341 499.1v8.1h1v-8.1zM342 493.9v10.5h1v-10.5zM343 492.7v11h1v-11zM344 493.5v21.7h1v-21.7zM345 503.4v11.6h1v-11.6zM346 501.5v10.1h1v-10.1zM347 501.4v12h1v-12zM348 504.9v10.4h1v-10.4zM349 493.8v22.5h1v-22.5zM350 492.6v17.3h1v-17.3zM351 495.6v18.4h1v-18.4zM352 501.5v36.1h1v-36.1zM353 516.4v26.3h1v-26.3zM354 522.8v20.1h1v-20.1zM355 522.7v9.7h1v-9.7zM356 515.7v16.9h1v-16.9zM357 506.7v21.2h1v-21.2zM358 503.2v12.6h1v-12.6zM359 502.8v12.3h1v-12.3zM360 479.5v33h1v-33zM361 472.1v40.4h1v-40.4zM362 471.7v18.7h1v-18.7zM363 477.9v13.5h1v-13.5zM364 473.4v13.4h1v-13.4zM365 470.1v11.3h1v-11.3zM366 470.9v23.9h1v-23.9zM367 482.9v16.1h1v-16.1zM368 484.8v14.8h1v-14.8zM369 472.9v27h1v-27zM370 471.1v13.1h1v-13.1zM371 469.5v10.5h1v-10.5zM372 446.2v16.7h1v-16.7zM373 443.8v12.4h1v-12.4zM374 441v9h1v-9zM375 442.3v3.9h1v-3.9zM376 442.3v4.9h1v-4.9zM377 442.1v3.7h1v-3.7zM378 442.2v4.1h1v-4.1zM379 442.8v3.3h1v-3.3zM380 443.3v3.9h1v-3.9zM381 443.5v3.8h1v-3.8zM382 444.4v4.2h1v-4.2zM383 443.6v3.9h1v-3.9zM384 439.9v11.5h1v-11.5zM385 445.1v6.2h1v-6.2zM386 445.1v7h1v-7zM387 440.2v9.5h1v-9.5zM388 438v9h1v-9zM389 436.4v8.3h1v-8.3zM390 437.6v7.7h1v-7.7zM391 434.8v11.8h1v-11.8zM392 435.6v13.6h1v-13.6zM393 415.4v33.4h1v-33.4zM394 410.3v21.6h1v-21.6zM395 410.1v31.5h1v-31.5zM396 427.4v23.8h1v-23.8zM397 441.8v30.6h1v-30.6zM398 452.4v35.4h1v-35.4zM399 458.9v28.8h1v-28.8zM400 458.9v12.5h1v-12.5zM401 457v14.1h1v-14.1zM402 456.9v9.5h1v-9.5zM403 443.7v21.5h1v-21.5zM404 440.8v23.7h1v-23.7zM405 439.5v10.5h1v-10.5zM406 436.8v12h1v-12zM407 437.4v34.8h1v-34.8zM408 438.8v56.4h1v-56.4zM409 471.3v24.5h1v-24.5zM410 461.4v27.4h1v-27.4zM411 456.9v13.6h1v-13.6zM412 452.8v10.3h1v-10.3zM413 445.1v13.7h1v-13.7zM414 447.8v7.5h1v-7.5zM415 448v8.8h1v-8.8zM416 448.1v11.7h1v-11.7zM417 446.1v9h1v-9zM418 447v11.1h1v-11.1zM419 448v18h1v-18zM420 456.7v11.5h1v-11.5zM421 453.2v14.9h1v-14.9zM422 452.9v8.9h1v-8.9zM423 451.8v10.3h1v-10.3zM424 444.3v16.3h1v-16.3zM425 434v21.2h1v-21.2zM426 431.8v15.5h1v-15.5zM427 431.5v9.3h1v-9.3zM428 428.7v13h1v-13zM429 429.5v16.2h1v-16.2zM430 433.5v14.5h1v-14.5zM431 427.5v20.1h1v-20.1zM432 427v8.8h1v-8.8zM433 420.1v15.9h1v-15.9zM434 421.7v8.4h1v-8.4zM435 423.2v8.5h1v-8.5zM436 415.2v15.5h1v-15.5zM437 408.9v14.2h1v-14.2zM438 404.3v11.4h1v-11.4zM439 403.8v7.8h1v-7.8zM440 401.5v9.8h1v-9.8zM441 404v10.7h1v-10.7zM442 406.6v9.2h1v-9.2zM443 407v8.9h1v-8.9zM444 403.8v9.5h1v-9.5zM445 401.6v9.6h1v-9.6zM446 399.5v8.8h1v-8.8zM447 401.4v13.6h1v-13.6zM448 407.9v11.8h1v-11.8zM449 413.4v7.3h1v-7.3zM450 412.1v7.8h1v-7.8zM451 411.9v8.4h1v-8.4zM452 410.6v9.5h1v-9.5zM453 407v11.9h1v-11.9zM454 406.5v14.5h1v-14.5zM455 412.6v14.6h1v-14.6zM456 418.6v12.8h1v-12.8zM457 425.2v7.8h1v-7.8zM458 427v5.7h1v-5.7zM459 422.1v9.1h1v-9.1zM460 418v12h1v-12zM461 413.6v11.7h1v-11.7zM462 409.5v11.8h1v-11.8zM463 411.3v8.8h1v-8.8zM464 412v20.6h1v-20.6zM465 419v27.7h1v-27.7zM466 434.9v16.3h1v-16.3zM467 446.2v16.8h1v-16.8zM468 438.9v25.3h1v-25.3zM469 439v18.8h1v-18.8zM470 440.9v9.9h1v-9.9zM471 436.5v13.5h1v-13.5zM472 438.3v14.7h1v-14.7zM473 436.4v16.9h1v-16.9zM474 434.3v10.2h1v-10.2zM475 430.4v15.2h1v-15.2zM476 432.3v5.5h1v-5.5zM477 431.5v4.3h1v-4.3zM478 430.7v4.7h1v-4.7zM479 431.1v4.7h1v-4.7zM480 431.6v3.7h1v-3.7zM481 431v3.5h1v-3.5zM482 431.9v4h1v-4zM483 430.9v3.3h1v-3.3zM484 431.7v4h1v-4zM485 431v4.4h1v-4.4zM486 432.2v4.4h1v-4.4zM487 433.1v4.4h1v-4.4zM488 434v3.4h1v-3.4zM489 432.3v6.7h1v-6.7zM490 430.8v6.3h1v-6.3zM491 427.4v8.3h1v-8.3zM492 430.2v5.3h1v-5.3zM493 428.8v6.7h1v-6.7zM494 429.1v5.9h1v-5.9zM495 429.3v3.1h1v-3.1zM496 428.3v3.6h1v-3.6zM497 424.7v7.5h1v-7.5zM498 423.6v7.5h1v-7.5zM499 421.1v8.7h1v-8.7zM500 417.9v9.3h1v-9.3zM501 418.1v7.9h1v-7.9zM502 419.2v5.7h1v-5.7zM503 421.4v5.9h1v-5.9zM504 420.6v5.5h1v-5.5zM505 421.1v6.2h1v-6.2zM506 421.1v15.4h1v-15.4zM507 423.1v16.6h1v-16.6zM508 420v20.7h1v-20.7zM509 417.5v10.9h1v-10.9zM510 416v8.1h1v-8.1zM511 417v4.1h1v-4.1zM512 415.5v4.3h1v-4.3zM513 415.3v4.6h1v-4.6zM514 413.5v7.5h1v-7.5zM515 416v15.5h1v-15.5zM516 418.1v12.6h1v-12.6zM517 421.9v12.6h1v-12.6zM518 423.1v11.3h1v-11.3zM519 418.7v10.7h1v-10.7zM520 415.6v8.8h1v-8.8zM521 415.7v7.8h1v-7.8zM522 416.6v7.7h1v-7.7zM523 416.3v7.1h1v-7.1zM524 418.1v8.2h1v-8.2zM525 417.4v15h1v-15zM526 423.9v14h1v-14zM527 409.8v29h1v-29zM528 403.7v35.2h1v-35.2zM529 395.9v15.1h1v-15.1zM530 388.7v15.3h1v-15.3zM531 381.9v16.3h1v-16.3zM532 381.7v10.3h1v-10.3zM533 383.9v12.5h1v-12.5zM534 390.1v10.6h1v-10.6zM535 393.6v9.3h1v-9.3zM536 397.9v8.6h1v-8.6zM537 399.8v10.4h1v-10.4zM538 402v9.8h1v-9.8zM539 404.9v10.3h1v-10.3zM540 405.1v6.3h1v-6.3zM541 406v6.8h1v-6.8zM542 407.3v6.3h1v-6.3zM543 408.7v6.6h1v-6.6zM544 409v7.4h1v-7.4zM545 410.8v6.5h1v-6.5zM546 408.8v9.5h1v-9.5zM547 409v9.1h1v-9.1zM548 407.7v6.2h1v-6.2zM549 408.7v4.9h1v-4.9zM550 407.4v5.6h1v-5.6zM551 402.9v9h1v-9zM552 399v13.2h1v-13.2zM553 395.2v14h1v-14zM554 392v9.4h1v-9.4zM555 387v11.2h1v-11.2zM556 382.3v12.2h1v-12.2zM557 381v9.1h1v-9.1zM558 380.9v13.9h1v-13.9zM559 378.3v16.9h1v-16.9zM560 376.1v13h1v-13zM561 376.3v10.6h1v-10.6zM562 378.7v9.5h1v-9.5zM563 379.9v10.5h1v-10.5zM564 373.5v15.2h1v-15.2zM565 371.9v11.5h1v-11.5zM566 371.8v12h1v-12zM567 377.4v11.5h1v-11.5zM568 376.4v6.4h1v-6.4zM569 375v9.8h1v-9.8zM570 377.8v6.3h1v-6.3zM571 381.1v3.5h1v-3.5zM572 378.7v6.5h1v-6.5zM573 372.4v13.2h1v-13.2zM574 374.7v8.1h1v-8.1zM575 372.4v9.2h1v-9.2zM576 370.6v9.4h1v-9.4zM577 372.3v6h1v-6zM578 369.9v9.3h1v-9.3zM579 373.8v5.4h1v-5.4zM580 373v7h1v-7zM581 375.5v8h1v-8zM582 377.5v5.8h1v-5.8zM583 374.6v8.6h1v-8.6zM584 372.9v8.8h1v-8.8zM585 371.6v12.7h1v-12.7zM586 375.3v12.7h1v-12.7zM587 380.5v10.7h1v-10.7zM588 375.8v15h1v-15zM589 374.2v7.4h1v-7.4zM590 373.7v13.4h1v-13.4zM591 375.4v15.8h1v-15.8zM592 385.4v14.9h1v-14.9zM593 389.3v12.6h1v-12.6zM594 385.5v16.8h1v-16.8zM595 384.5v11.7h1v-11.7zM596 384.9v12.6h1v-12.6zM597 380.9v16.1h1v-16.1zM598 377.7v11.8h1v-11.8zM599 377.7v8.8h1v-8.8zM600 370.1v14.7h1v-14.7zM601 369.1v12.6h1v-12.6zM602 368.7v10.5h1v-10.5zM603 371.7v9.5h1v-9.5zM604 372.7v8.1h1v-8.1zM605 372.4v5.6h1v-5.6zM606 372.9v4.8h1v-4.8zM607 372.2v5.7h1v-5.7zM608 368.6v9.2h1v-9.2zM609 369.3v6.3h1v-6.3zM610 368.7v5.8h1v-5.8zM611 365.2v7.8h1v-7.8zM612 363.9v6.6h1v-6.6zM613 362.9v6.2h1v-6.2zM614 363.9v7.5h1v-7.5zM615 366.6v6.6h1v-6.6zM616 365.9v8.1h1v-8.1zM617 360.8v13.2h1v-13.2zM618 357.8v11.1h1v-11.1zM619 355.5v11.4h1v-11.4zM620 355.9v13.9h1v-13.9zM621 353.7v8.5h1v-8.5zM622 351.9v9.8h1v-9.8zM623 350.4v10.4h1v-10.4zM624 351.1v9h1v-9zM625 350.3v8h1v-8zM626 350.1v13.5h1v-13.5zM627 355.8v14.1h1v-14.1zM628 346.8v21.6h1v-21.6zM629 346.5v11.6h1v-11.6zM630 347.2v15.7h1v-15.7zM631 349v17h1v-17zM632 338.4v27.3h1v-27.3zM633 330.5v16.7h1v-16.7zM634 325.6v13.2h1v-13.2zM635 326.3v17.6h1v-17.6zM636 333.3v7.8h1v-7.8zM637 336.4v8.4h1v-8.4zM638 337.7v8.4h1v-8.4zM639 337.6v6.6h1v-6.6zM640 337.8v6h1v-6zM641 337.5v4h1v-4zM642 337.6v5.2h1v-5.2zM643 338.4v5h1v-5zM644 337.7v4.8h1v-4.8zM645 337.1v5.3h1v-5.3zM646 336.5v5.3h1v-5.3zM647 336.2v3.2h1v-3.2zM648 335.7v4.4h1v-4.4zM649 335.1v4.2h1v-4.2zM650 334.6v5.4h1v-5.4zM651 336.4v6.7h1v-6.7zM652 335.2v4.6h1v-4.6zM653 335.1v5.1h1v-5.1zM654 335.9v5.8h1v-5.8zM655 335.5v5.5h1v-5.5zM656 336v5.2h1v-5.2zM657 333.8v6.2h1v-6.2zM658 333.4v7.5h1v-7.5zM659 330.1v10.2h1v-10.2zM660 325v13.6h1v-13.6zM661 325v20.6h1v-20.6zM662 330.6v15.2h1v-15.2zM663 323.4v17.2h1v-17.2zM664 320.8v10h1v-10zM665 321.2v14h1v-14zM666 321.6v23.5h1v-23.5zM667 331.1v13.9h1v-13.9zM668 331v19.2h1v-19.2zM669 338.4v18h1v-18zM670 348.6v9.6h1v-9.6zM671 348.4v9.6h1v-9.6zM672 348.9v11.8h1v-11.8zM673 352.3v7.1h1v-7.1zM674 352.8v5.3h1v-5.3zM675 352.9v8.1h1v-8.1zM676 350.2v8h1v-8zM677 347.3v7.2h1v-7.2zM678 349v4.9h1v-4.9zM679 348.5v7.7h1v-7.7zM680 350.2v8.3h1v-8.3zM681 350.8v4.3h1v-4.3zM682 350.2v3.7h1v-3.7zM683 350.4v7.2h1v-7.2zM684 348v8.1h1v-8.1zM685 347.4v6h1v-6zM686 344.9v8.2h1v-8.2zM687 343.2v10.9h1v-10.9zM688 344.7v12.1h1v-12.1zM689 349.9v12.1h1v-12.1zM690 352.4v13.3h1v-13.3zM691 347.5v17.4h1v-17.4zM692 344.5v13.1h1v-13.1zM693 349.2v15.5h1v-15.5zM694 327.4v36.7h1v-36.7zM695 316.9v31.9h1v-31.9zM696 316.5v9.6h1v-9.6zM697 318.8v17.5h1v-17.5zM698 326.3v14.5h1v-14.5zM699 327v13.8h1v-13.8zM700 326.8v17.7h1v-17.7zM701 334.8v10.8h1v-10.8zM702 332.8v9.3h1v-9.3zM703 332.1v8.4h1v-8.4zM704 331.6v8.1h1v-8.1zM705 330.5v7.5h1v-7.5zM706 326.9v9.6h1v-9.6zM707 327.3v8.3h1v-8.3zM708 328.7v7.5h1v-7.5zM709 331.6v6.3h1v-6.3zM710 331.3v11.7h1v-11.7zM711 331.9v9h1v-9zM712 335.6v5h1v-5zM713 335.5v6.4h1v-6.4zM714 338.3v3.6h1v-3.6zM715 336.7v5.9h1v-5.9zM716 335.6v6.2h1v-6.2zM717 333v7.2h1v-7.2zM718 331.2v8.8h1v-8.8zM719 324.5v13.4h1v-13.4zM720 322.7v9.6h1v-9.6zM721 324.3v11.5h1v-11.5zM722 326.4v11.5h1v-11.5zM723 332.4v9.4h1v-9.4zM724 336.6v8.4h1v-8.4zM725 335.8v9.9h1v-9.9zM726 333.6v10.9h1v-10.9zM727 333.8v7.6h1v-7.6zM728 331.5v11.3h1v-11.3zM729 332.7v8.6h1v-8.6zM730 332.9v25.1h1v-25.1zM731 339.7v37.4h1v-37.4zM732 357.5v19.8h1v-19.8zM733 357.2v10.9h1v-10.9zM734 355.2v11.9h1v-11.9zM735 352.1v16.5h1v-16.5zM736 352.9v22.9h1v-22.9zM737 367v13.5h1v-13.5zM738 375.2v9h1v-9zM739 377.9v8.8h1v-8.8zM740 377.8v7.5h1v-7.5zM741 376.7v6.5h1v-6.5zM742 378.4v5.3h1v-5.3zM743 380.3v5.1h1v-5.1zM744 379.7v4.4h1v-4.4zM745 379v5.4h1v-5.4zM746 378.9v4.7h1v-4.7zM747 379.9v4.3h1v-4.3zM748 380.3v3.8h1v-3.8zM749 378.8v4.9h1v-4.9zM750 375.9v6.9h1v-6.9zM751 378.7v3.8h1v-3.8zM752 378.6v3.3h1v-3.3zM753 377.9v5.1h1v-5.1zM754 377.5v8.4h1v-8.4zM755 377.6v7h1v-7zM756 379.1v8.6h1v-8.6zM757 378.8v9.9h1v-9.9zM758 373.7v14.1h1v-14.1zM759 368.2v12.3h1v-12.3zM760 367v8.6h1v-8.6zM761 364.3v9.9h1v-9.9zM762 366.1v10.7h1v-10.7zM763 368.8v14.6h1v-14.6zM764 367.4v15.2h1v-15.2zM765 362.8v18.1h1v-18.1zM766 362.6v14.3h1v-14.3zM767 367.1v16.1h1v-16.1zM768 375.8v15h1v-15zM769 375.7v9.2h1v-9.2zM770 378.3v12.4h1v-12.4zM771 383.6v25.2h1v-25.2zM772 389.1v23.1h1v-23.1zM773 390.9v19.6h1v-19.6zM774 387.9v10.4h1v-10.4zM775 389v9h1v-9zM776 391.7v6.2h1v-6.2zM777 393v5.1h1v-5.1zM778 393.6v3.4h1v-3.4zM779 393v5.5h1v-5.5zM780 394.1v5.9h1v-5.9zM781 395v5.7h1v-5.7zM782 394.2v8h1v-8zM783 396.3v7.8h1v-7.8zM784 395.4v8.3h1v-8.3zM785 392.9v8.8h1v-8.8zM786 393.6v4.6h1v-4.6zM787 392.7v10.3h1v-10.3zM788 394.6v10.3h1v-10.3zM789 393.5v10h1v-10zM790 392.1v9.8h1v-9.8zM791 391.4v6.1h1v-6.1zM792 391.5v6.5h1v-6.5zM793 393.1v3.7h1v-3.7zM794 391.4v4.9h1v-4.9zM795 391.6v5.1h1v-5.1zM796 388.8v10.3h1v-10.3zM797 364.8v33.2h1v-33.2zM798 352.3v34.5h1v-34.5zM799 344.5v16.3h1v-16.3zM800 337.3v15.7h1v-15.7zM801 332.8v14.3h1v-14.3zM802 328.8v11h1v-11zM803 326.1v9.9h1v-9.9zM804 327.2v12h1v-12zM805 330.2v10.5h1v-10.5zM806 330.4v8.1h1v-8.1zM807 332.4v14.7h1v-14.7zM808 336.1v17.5h1v-17.5zM809 346.1v8.1h1v-8.1zM810 347v6.9h1v-6.9zM811 348.6v8.2h1v-8.2zM812 349.6v7.2h1v-7.2zM813 351.1v5.5h1v-5.5zM814 350.4v5.2h1v-5.2zM815 350.3v4.1h1v-4.1zM816 350.6v4h1v-4zM817 348.7v6.7h1v-6.7zM818 348.2v6.6h1v-6.6zM819 347v7.4h1v-7.4zM820 346v6.1h1v-6.1zM821 346.7v5.4h1v-5.4zM822 345.2v7.6h1v-7.6zM823 349.3v4.2h1v-4.2zM824 349.9v4.6h1v-4.6zM825 350v5.8h1v-5.8zM826 349.4v5.2h1v-5.2zM827 350.2v7.6h1v-7.6zM828 351.7v6.9h1v-6.9zM829 351.2v7.3h1v-7.3zM830 352v8.8h1v-8.8zM831 345.5v14.5h1v-14.5zM832 347.3v23.7h1v-23.7zM833 346.4v24.5h1v-24.5zM834 346.2v28.3h1v-28.3zM835 346.8v28.2h1v-28.2zM836 346.9v21.9h1v-21.9zM837 352.9v15.8h1v-15.8zM838 348.7v16.3h1v-16.3zM839 349.3v26.5h1v-26.5zM840 361v19h1v-19zM841 369.6v11.7h1v-11.7z" fill="#1e1e1e"/>
<rect x="947" y="0" width="77" height="948" fill="#0a0a0a"/>
<rect x="946.6" y="0" width="1" height="812" fill="#4a4a4a"/>
<g stroke="#7a7a7a" stroke-width="1.2">
<path d="M941.5 49.5 H947"/>
<path d="M941.5 121.5 H947"/>
<path d="M941.5 192.5 H947"/>
<path d="M941.5 264.5 H947"/>
<path d="M941.5 335.5 H947"/>
<path d="M941.5 407.5 H947"/>
<path d="M941.5 478.5 H947"/>
<path d="M941.5 550.5 H947"/>
<path d="M941.5 621.5 H947"/>
<path d="M941.5 693.5 H947"/>
<path d="M941.5 764.5 H947"/>
<path d="M941.5 882.5 H947"/>
</g>
<text class="ax" x="950.8" y="56.8">6320.93</text>
<text class="ax" x="950.8" y="128.8">6264.34</text>
<text class="ax" x="950.8" y="199.8">6208.24</text>
<text class="ax" x="950.8" y="271.8">6152.65</text>
<text class="ax" x="950.8" y="342.8">6097.56</text>
<text class="ax" x="950.8" y="414.8">6042.96</text>
<text class="ax" x="950.8" y="485.8">5988.85</text>
<text class="ax" x="950.8" y="557.8">5935.23</text>
<text class="ax" x="950.8" y="628.8">5882.08</text>
<text class="ax" x="950.8" y="700.8">5829.42</text>
<text class="ax" x="950.8" y="771.8">5777.22</text>
<rect x="950.5" y="-6" width="72.5" height="23.5" rx="4" ry="4" fill="#a9a9a9"/>
<text x="955" y="12.8" style="font-family:'Liberation Sans',sans-serif;font-size:17px;fill:#0c0c0c">6359.18</text>
<rect x="951" y="364.5" width="71.5" height="21" rx="4" ry="4" fill="#000" stroke="#5a5a5a" stroke-width="1"/>
<text x="955" y="381.3" style="font-family:'Liberation Sans',sans-serif;font-size:17px;fill:#fff">6065.75</text>
<rect x="0" y="812" width="947" height="33.5" fill="#0a0a0a"/>
<rect x="0" y="814" width="947" height="1" fill="#222"/>
<rect x="0" y="817" width="947" height="1" fill="#555"/>
<rect x="946.6" y="817" width="1" height="28.5" fill="#5c5c5c"/>
<rect x="67.5" y="818" width="1" height="27.5" fill="#4c4c4c"/>
<rect x="121" y="818" width="1" height="27.5" fill="#4c4c4c"/>
<text x="0" y="837" style="font-family:'Liberation Sans',sans-serif;font-size:17.4px;fill:#f2f2f2">Volume</text>
<text x="72.5" y="837" style="font-family:'Liberation Sans',sans-serif;font-size:16.5px;fill:#8c8c8c">3,002</text>
<text class="ax" x="951" y="890">250</text>
<text class="ax" x="951" y="927.6">0</text>
<rect x="0" y="918.5" width="1024" height="30" fill="#0a0a0a"/>
<rect x="0" y="918" width="947" height="1" fill="#222"/>
<rect x="0.7" y="920" width="47.8" height="22.8" rx="4" ry="4" fill="#a9a9a9"/>
<text x="4" y="937.4" style="font-family:'Liberation Sans',sans-serif;font-size:17.5px;fill:#0c0c0c">20:00</text>
<text class="ax" x="46.5" y="938.6" textLength="22" lengthAdjust="spacingAndGlyphs">/11</text>
<text class="ax" x="198.4" y="938.6">11/18</text>
<text class="ax" x="371.8" y="938.6">11/25</text>
<text class="ax" x="533.6" y="938.6">12/2</text>
<text class="ax" x="706.4" y="938.6">12/9</text>
<text class="ax" x="877.8" y="938.6">12/16</text>
<text transform="translate(1032.2 911.6) rotate(-90)" style="font-family:'Liberation Sans',sans-serif;font-size:17.5px;fill:#b0b0b0">t</text>
<text transform="translate(1032.2 901.2) rotate(-90)" style="font-family:'Liberation Sans',sans-serif;font-size:17.5px;letter-spacing:0.7px;fill:#b0b0b0">hous</text>
<path d="M694.3 281 H764.2 a4.7 4.7 0 0 1 4.7 4.7 V303.5 a4.7 4.7 0 0 1 -4.7 4.7 H706.6 L696.2 318.6 L700.6 308.2 H694.3 a4.7 4.7 0 0 1 -4.7 -4.7 V285.7 a4.7 4.7 0 0 1 4.7 -4.7Z" fill="#dcdcdc" stroke="#a6a6a6" stroke-width="1.1"/>
<text x="697.4" y="302.5" style="font-family:'Liberation Sans',sans-serif;font-size:16.6px;fill:#222">Hi: 6111</text>
</svg>
<svg width="1024" height="948" viewBox="0 0 1024 948" style="will-change:transform">
<text class="sr" x="32" y="344.7">11/11/2024</text>
<text class="sr" x="32" y="366.5">6053.25</text>
<text class="sb" x="31" y="385.2">3{-11}</text>
<text class="sb" x="234.5" y="686.3">4{-11}</text>
<text class="sr" x="239.7" y="705.3">11/19</text>
<text class="sr" x="239" y="726.7">5855</text>
<text class="sb" x="444.6" y="485.8">4{-12}</text>
<text class="sr" x="439.1" y="514.3">11/27</text>
<text class="sr" x="438.1" y="536.3">6000.25</text>
<text class="sr" x="683.2" y="227.8">12/6</text>
<text class="sr" x="683" y="249.8">6111</text>
<text class="sm" x="677.6" y="268.8">3{-13}</text>
<text class="sm" x="748.7" y="434.3">A{-14}</text>
<text class="sr" x="749.4" y="456.2">12/11</text>
<text class="sr" x="748.3" y="478.2">6045.50</text>
<text class="sm" x="876.9" y="328">B{-14}</text>
<path d="M901.6 298 L912.9 309 L890.4 309Z" fill="#000"/>
<text class="sm" x="880" y="376.6">A{-15}</text>
<path d="M905.2 347 L916.5 358 L894 358Z" fill="#000"/>
<text class="sm" x="855.4" y="437.2">4-13}</text>
<path d="M864.4 443 L887.4 443 L875.9 454Z" fill="#000"/>
<text class="sb" x="728" y="53.5">3{-7}</text>
<text class="sb" x="728" y="79.1">5{-8}</text>
<text class="sb" x="728" y="104.7">5{-9}</text>
<text class="sb" x="728" y="130.4">5{-10}</text>
<text class="sb" x="728" y="156">5{-11}</text>
<text class="sb" x="728" y="181.6">5{-12]</text>
<text class="sb" x="791.5" y="52">5{-1}</text>
<text class="sb" x="791.5" y="77.5">3{-2}</text>
<text class="sb" x="791.5" y="103.1">3{-3}</text>
<text class="sb" x="791.5" y="128.7">5{-4}</text>
<text class="sb" x="791.5" y="154.2">5{-5}</text>
<text class="sb" x="791.5" y="179.8">1{-6}</text>
<text class="sx" x="846.5" y="56.4">5{0}</text>
<path d="M755 22.2 L766.2 33.2 L743.8 33.2Z" fill="#000"/>
<path d="M812.5 21 L823.8 32 L801.2 32Z" fill="#000"/>
<path d="M869.4 22.2 L880.6 33.2 L858.1 33.2Z" fill="#000"/>
</svg>
</body></html>
